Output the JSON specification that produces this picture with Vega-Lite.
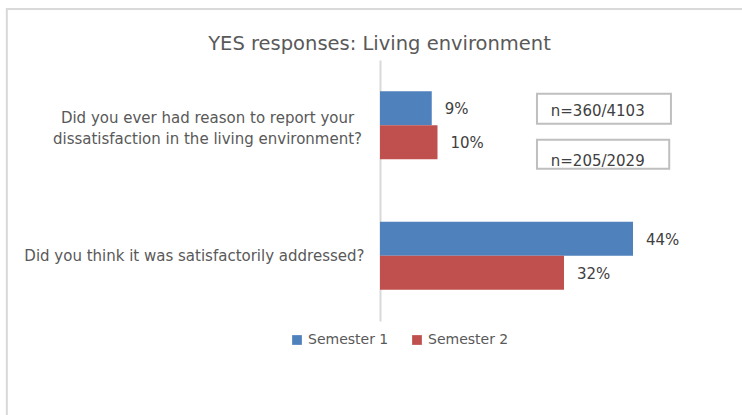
{
  "$schema": "https://vega.github.io/schema/vega-lite/v6.json",
  "autosize": {"type": "none"},
  "padding": {"left": 380, "top": 60, "right": 17, "bottom": 94},
  "width": 345,
  "height": 261,
  "title": {
    "text": "YES responses: Living environment",
    "font": "DejaVu Sans",
    "fontSize": 19.5,
    "fontWeight": "normal",
    "color": "#595959",
    "anchor": "middle",
    "frame": "group",
    "offset": -46,
    "dx": -173
  },
  "data": {
    "values": [
      {"question": "Did you ever had reason to report your|dissatisfaction in the living environment?", "semester": "Semester 1", "value": 9, "label": "9%", "n": "n=360/4103"},
      {"question": "Did you ever had reason to report your|dissatisfaction in the living environment?", "semester": "Semester 2", "value": 10, "label": "10%", "n": "n=205/2029"},
      {"question": "Did you think it was satisfactorily addressed?", "semester": "Semester 1", "value": 44, "label": "44%", "n": null},
      {"question": "Did you think it was satisfactorily addressed?", "semester": "Semester 2", "value": 32, "label": "32%", "n": null}
    ]
  },
  "layer": [
    {
      "transform": [{"filter": "datum.label === '9%'"}],
      "mark": {"type": "rect", "filled": false, "stroke": "#D9D9D9", "strokeWidth": 2},
      "encoding": {
        "x": {"datum": -64.9, "type": "quantitative"},
        "x2": {"datum": 66},
        "y": {"datum": 1.195, "type": "quantitative", "scale": {"domain": [0, 1], "nice": false, "zero": false}, "axis": null},
        "y2": {"datum": -0.45}
      }
    },
    {
      "encoding": {
        "y": {
          "field": "question",
          "type": "nominal",
          "sort": null,
          "scale": {"paddingInner": 0.48, "paddingOuter": 0.24},
          "axis": {
            "title": null,
            "ticks": false,
            "domainColor": "#D9D9D9",
            "domainWidth": 2,
            "labelFont": "DejaVu Sans",
            "labelFontSize": 15,
            "labelColor": "#595959",
            "labelLimit": 0,
            "labelLineHeight": 21,
            "labelAlign": {"condition": {"test": "indexof(datum.value, '|') >= 0", "value": "center"}, "value": "right"},
            "labelPadding": {"condition": {"test": "indexof(datum.value, '|') >= 0", "value": 173}, "value": 16},
            "labelOffset": {"condition": {"test": "indexof(datum.value, '|') >= 0", "value": -7}, "value": 0},
            "labelExpr": "split(datum.value, '|')"
          }
        }
      },
      "layer": [
        {
          "mark": {"type": "bar"},
          "encoding": {
            "yOffset": {"field": "semester", "type": "nominal", "sort": ["Semester 1", "Semester 2"]},
            "x": {"field": "value", "type": "quantitative", "scale": {"domain": [0, 60]}, "axis": null},
            "color": {
              "field": "semester",
              "type": "nominal",
              "scale": {"domain": ["Semester 1", "Semester 2"], "range": ["#4F81BD", "#C0504D"]},
              "legend": {
                "title": null,
                "orient": "none",
                "direction": "horizontal",
                "legendX": -90,
                "legendY": 273,
                "symbolType": "square",
                "symbolSize": 95,
                "symbolStrokeWidth": 0,
                "labelFont": "DejaVu Sans",
                "labelFontSize": 14,
                "labelColor": "#595959",
                "labelOffset": 4,
                "columnPadding": 21
              }
            }
          }
        },
        {
          "mark": {"type": "text", "align": "left", "baseline": "middle", "dx": 13, "dy": 1, "font": "DejaVu Sans", "fontSize": 15, "color": "#404040"},
          "encoding": {
            "yOffset": {"field": "semester", "type": "nominal", "sort": ["Semester 1", "Semester 2"]},
            "x": {"field": "value", "type": "quantitative"},
            "text": {"field": "label"}
          }
        },
        {
          "transform": [{"filter": "datum.semester === 'Semester 1' && datum.n"}],
          "layer": [
            {
              "mark": {"type": "bar", "height": 30, "yOffset": -16.5, "fill": "white", "stroke": "#BFBFBF", "strokeWidth": 2},
              "encoding": {"x": {"datum": 27.3}, "x2": {"datum": 50.6}}
            },
            {
              "mark": {"type": "text", "align": "left", "baseline": "middle", "dy": -14, "font": "DejaVu Sans", "fontSize": 15, "color": "#404040"},
              "encoding": {"x": {"datum": 29.7}, "text": {"field": "n"}}
            }
          ]
        },
        {
          "transform": [{"filter": "datum.semester === 'Semester 2' && datum.n"}],
          "layer": [
            {
              "mark": {"type": "bar", "height": 29, "yOffset": 29, "fill": "white", "stroke": "#BFBFBF", "strokeWidth": 2},
              "encoding": {"x": {"datum": 27.3}, "x2": {"datum": 50.3}}
            },
            {
              "mark": {"type": "text", "align": "left", "baseline": "middle", "dy": 35.5, "font": "DejaVu Sans", "fontSize": 15, "color": "#404040"},
              "encoding": {"x": {"datum": 29.7}, "text": {"field": "n"}}
            }
          ]
        }
      ]
    }
  ],
  "resolve": {"scale": {"y": "independent"}},
  "config": {"view": {"stroke": null}}
}
